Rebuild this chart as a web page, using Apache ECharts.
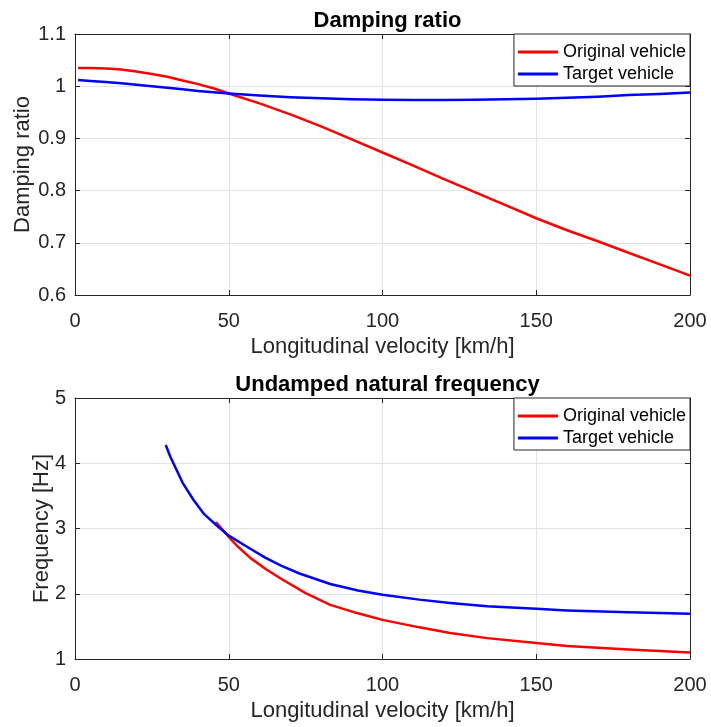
<!DOCTYPE html>
<html>
<head>
<meta charset="utf-8">
<script src="https://cdn.jsdelivr.net/npm/echarts@6/dist/echarts.min.js"></script>
<style>html,body{margin:0;padding:0;background:#fff;}#c{width:711px;height:727px;}</style>
</head>
<body>
<div id="c"></div>
<script>
// ---- Data ----
var seriesNames = ['Original vehicle', 'Target vehicle'];
var xTicks = [0, 50, 100, 150, 200];

// Damping ratio
var speedTop = [1, 5, 10, 15, 20, 25, 30, 35, 40, 45, 50, 60, 70, 80, 90, 100, 110, 120, 130, 140, 150, 160, 170, 180, 190, 200];
var ratioOriginal = [1.035, 1.035, 1.034, 1.032, 1.028, 1.0235, 1.018, 1.011, 1.004, 0.996, 0.986, 0.967, 0.946, 0.923, 0.898, 0.873, 0.848, 0.822, 0.797, 0.772, 0.747, 0.724, 0.703, 0.681, 0.659, 0.637];
var ratioTarget = [1.012, 1.010, 1.008, 1.0055, 1.003, 1.000, 0.997, 0.994, 0.991, 0.9885, 0.986, 0.982, 0.979, 0.977, 0.975, 0.974, 0.9735, 0.9735, 0.974, 0.975, 0.976, 0.978, 0.980, 0.983, 0.985, 0.988];

// Undamped natural frequency
var speedFreqOriginal = [45.8, 48, 50, 53, 57, 62, 67, 75, 83, 92, 100, 112, 122, 134, 150, 160, 180, 200];
var freqOriginal = [3.10, 2.98, 2.87, 2.72, 2.55, 2.38, 2.23, 2.01, 1.83, 1.70, 1.60, 1.485, 1.40, 1.32, 1.245, 1.20, 1.145, 1.10];
var speedFreqTarget = [29.5, 31, 32.5, 35, 38.5, 42, 46, 50, 57, 62, 67, 73, 83, 92, 100, 112, 122, 134, 150, 160, 180, 200];
var freqTarget = [4.28, 4.10, 3.95, 3.70, 3.44, 3.22, 3.05, 2.89, 2.69, 2.55, 2.43, 2.31, 2.15, 2.05, 1.985, 1.91, 1.86, 1.81, 1.77, 1.745, 1.715, 1.694];

function pairs(xs, ys) { return xs.map(function (x, i) { return [x, ys[i]]; }); }

var FONT = 'Liberation Sans, Arial, Helvetica, sans-serif';
var AX = '#262626';
var GRIDC = '#e3e3e3';
var RED = '#ff0000', BLUE = '#0000ff';

function xAxes(gi, nameTxt) {
  return [{
    type: 'value', gridIndex: gi, min: 0, max: 200, interval: 50, position: 'bottom',
    name: nameTxt, nameLocation: 'middle', nameGap: 41, nameMoveOverlap: false,
    nameTextStyle: { fontFamily: FONT, fontSize: 22, color: AX },
    axisLine: { show: true, onZero: false, lineStyle: { color: AX, width: 1 } },
    axisTick: { show: true, inside: true, length: 5, lineStyle: { color: AX } },
    axisLabel: { fontFamily: FONT, fontSize: 20, color: AX, margin: 16 },
    splitLine: { show: true, lineStyle: { color: GRIDC, width: 1 } }
  }, {
    type: 'value', gridIndex: gi, min: 0, max: 200, interval: 50, position: 'top',
    axisLine: { show: true, onZero: false, lineStyle: { color: AX, width: 1 } },
    axisTick: { show: true, inside: true, length: 5, lineStyle: { color: AX } },
    axisLabel: { show: false }, splitLine: { show: false }
  }];
}
function yAxes(gi, mn, mx, iv, nameTxt, gap, fmt) {
  return [{
    type: 'value', gridIndex: gi, min: mn, max: mx, interval: iv, position: 'left',
    name: nameTxt, nameLocation: 'middle', nameGap: gap, nameMoveOverlap: false,
    nameTextStyle: { fontFamily: FONT, fontSize: 22, color: AX },
    axisLine: { show: true, onZero: false, lineStyle: { color: AX, width: 1 } },
    axisTick: { show: true, inside: true, length: 5, lineStyle: { color: AX } },
    axisLabel: { fontFamily: FONT, fontSize: 20, color: AX, margin: 9, formatter: fmt },
    splitLine: { show: true, lineStyle: { color: GRIDC, width: 1 } }
  }, {
    type: 'value', gridIndex: gi, min: mn, max: mx, interval: iv, position: 'right',
    axisLine: { show: true, onZero: false, lineStyle: { color: AX, width: 1 } },
    axisTick: { show: true, inside: true, length: 5, lineStyle: { color: AX } },
    axisLabel: { show: false }, splitLine: { show: false }
  }];
}
function legendAt(top) {
  return {
    data: seriesNames.map(function (n) { return { name: n, icon: 'rect' }; }),
    orient: 'vertical', right: 21, top: top,
    itemWidth: 40, itemHeight: 3, itemGap: 4,
    padding: [9, 4, 3, 4],
    borderColor: AX, borderWidth: 1, backgroundColor: '#fff',
    textStyle: { fontFamily: FONT, fontSize: 18, color: '#000', lineHeight: 18 },
    selectedMode: false
  };
}
function line(name, color, data, xi, yi) {
  return {
    type: 'line', name: name, data: data, xAxisIndex: xi, yAxisIndex: yi,
    symbol: 'none', smooth: false,
    lineStyle: { color: color, width: 2.5, join: 'round' }, itemStyle: { color: color },
    animation: false, z: 3
  };
}

var ratioFmt = function (v) { return String(Math.round(v * 10) / 10); };
var freqFmt = function (v) { return String(Math.round(v)); };

var option = {
  backgroundColor: '#fff',
  animation: false,
  title: [
    { text: 'Damping ratio', left: 382.5, top: 5, textAlign: 'center',
      textStyle: { fontFamily: FONT, fontSize: 22, fontWeight: 'bold', color: '#000' } },
    { text: 'Undamped natural frequency', left: 382.5, top: 369, textAlign: 'center',
      textStyle: { fontFamily: FONT, fontSize: 22, fontWeight: 'bold', color: '#000' } }
  ],
  grid: [
    { left: 75, right: 21, top: 34, height: 261 },
    { left: 75, right: 21, top: 398, height: 261 }
  ],
  legend: [legendAt(34), legendAt(398)],
  xAxis: xAxes(0, 'Longitudinal velocity [km/h]').concat(xAxes(1, 'Longitudinal velocity [km/h]')),
  yAxis: yAxes(0, 0.6, 1.1, 0.1, 'Damping ratio', 41, ratioFmt).concat(yAxes(1, 1, 5, 1, 'Frequency [Hz]', 22, freqFmt)),
  series: [
    line(seriesNames[0], RED, pairs(speedTop, ratioOriginal), 0, 0),
    line(seriesNames[1], BLUE, pairs(speedTop, ratioTarget), 0, 0),
    line(seriesNames[0], RED, pairs(speedFreqOriginal, freqOriginal), 2, 2),
    line(seriesNames[1], BLUE, pairs(speedFreqTarget, freqTarget), 2, 2)
  ]
};
var chart = echarts.init(document.getElementById('c'), null, { renderer: 'canvas' });
chart.setOption(option);
</script>
</body>
</html>
